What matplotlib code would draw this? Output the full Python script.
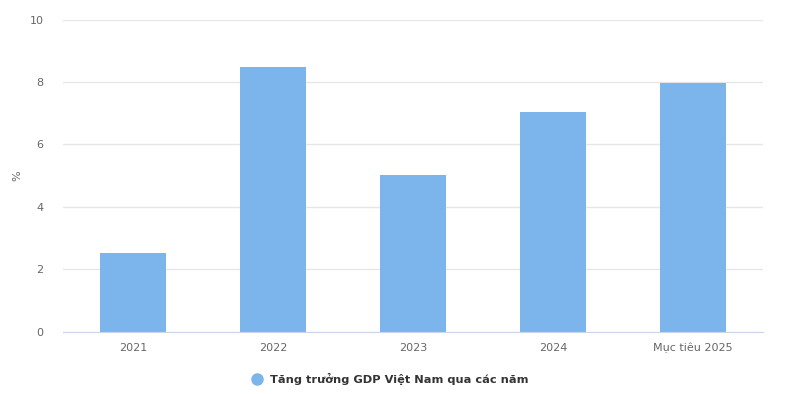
import matplotlib.pyplot as plt
from matplotlib.lines import Line2D

# Dữ liệu tăng trưởng GDP
nam = ["2021", "2022", "2023", "2024", "Mục tiêu 2025"]
tang_truong = [2.54, 8.48, 5.03, 7.04, 7.98]
y_ticks = [0, 2, 4, 6, 8, 10]

fig = plt.figure(figsize=(7.87, 3.94), dpi=100)
ax = fig.add_axes([0.080, 0.1574, 0.8895, 0.7931])

x = range(len(nam))
ax.bar(x, tang_truong, width=0.47, color="#7cb5ec", zorder=2)

ax.set_xlim(-0.5, len(nam) - 0.5)
ax.set_ylim(0, 10)
ax.set_yticks(y_ticks)
ax.set_xticks(list(x))
ax.set_xticklabels(nam)
ax.grid(axis="y", color="#e6e6e6", linewidth=1, zorder=0)

for s in ["top", "right", "left"]:
    ax.spines[s].set_visible(False)
ax.spines["bottom"].set_color("#ccd6eb")

ax.tick_params(axis="both", length=0, labelsize=8, labelcolor="#666666")
ax.tick_params(axis="y", pad=14)
ax.tick_params(axis="x", pad=8)
ax.set_ylabel("%", fontsize=8, color="#666666")
ax.yaxis.set_label_coords(-0.058, 0.5)

handle = Line2D([], [], marker="o", linestyle="", markersize=8,
                markerfacecolor="#7cb5ec", markeredgecolor="#7cb5ec")
fig.legend([handle], ["Tăng trưởng GDP Việt Nam qua các năm"],
           loc="center", bbox_to_anchor=(0.492, 0.038), frameon=False,
           handletextpad=0.2, prop={"size": 8.2, "weight": "bold"},
           labelcolor="#333333")

fig.savefig("out.png", dpi=100)
